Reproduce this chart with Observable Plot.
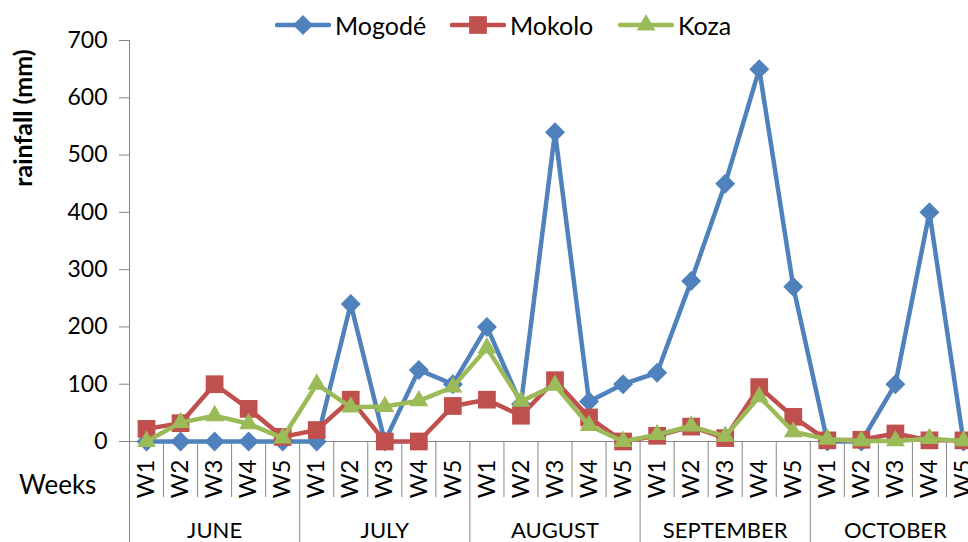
<!DOCTYPE html>
<html><head><meta charset="utf-8">
<script src="https://cdn.jsdelivr.net/npm/d3@7"></script>
<script src="https://cdn.jsdelivr.net/npm/@observablehq/plot@0.6"></script>
<style>
html,body{margin:0;padding:0;overflow:hidden;background:#fff;width:968px;height:542px}
#wrap{position:relative;width:968px;height:542px;font-family:Lato,"Open Sans",sans-serif;color:#000;overflow:hidden}
#chart{position:absolute;left:0;top:0;width:980px}
.leg{position:absolute;top:10px;height:30px;display:flex;align-items:center;font-size:25px;white-space:nowrap}
.leg span{margin-left:4px}
#ylab{position:absolute;left:22px;top:118px;transform:translate(-50%,-50%) rotate(-90deg);font-weight:bold;font-size:25px;white-space:nowrap}
#weeks{position:absolute;left:19px;top:484px;transform:translateY(-50%);font-size:26px}
</style></head>
<body><div id="wrap"><div id="chart"></div><div id="ylab">rainfall (mm)</div><div id="weeks">Weeks</div></div>
<script>
const months = ["JUNE","JULY","AUGUST","SEPTEMBER","OCTOBER"];
const weeks = ["W1","W2","W3","W4","W5"];
const seriesNames = ["Mogodé","Mokolo","Koza"];
const mogode = [0,0,0,0,0, 0,240,0,125,100, 200,65,540,70,100, 120,280,450,650,270, 0,0,100,400,0];
const mokolo = [22,32,100,57,8, 20,73,0,0,62, 73,45,107,42,0, 10,26,6,95,43, 2,3,14,2,2];
const koza = [0,33,45,31,6, 100,60,61,71,95, 163,70,98,28,0, 12,27,9,78,17, 4,1,1,5,1];
const yTicks = [0,100,200,300,400,500,600,700];

const colors = ["#4F81BD","#C0504D","#9BBB59"];
const symbols = ["diamond2","square","triangle"];
const radii = [9,10,7];
const gray = "#868686";

const values = [mogode, mokolo, koza];
const n = months.length * weeks.length;
const idx = d3.range(n);
const weekBounds = d3.range(1, n).filter(i => i % weeks.length !== 0);
const monthBounds = d3.range(0, n + 1, weeks.length);
const centers = idx.map(i => i + 0.5);
const monthRows = months.map((m, k) => ({month: m, x: k * weeks.length + weeks.length / 2}));

const marks = [
  Plot.axisX(weekBounds, {tickSize: 56, tickFormat: () => "", stroke: gray, label: null}),
  Plot.axisX(monthBounds, {tickSize: 101, tickFormat: () => "", stroke: gray, label: null}),
  Plot.axisX(centers, {tickSize: 0, tickRotate: -90, tickPadding: 18, fontSize: 24,
    tickFormat: v => weeks[Math.floor(v) % weeks.length], label: null}),
  Plot.text(monthRows, {x: "x", text: "month", frameAnchor: "bottom", dy: 96, fontSize: 22}),
  Plot.axisY(yTicks, {tickSize: 10, tickPadding: 12, fontSize: 23, stroke: gray, label: null}),
  Plot.ruleX([0], {stroke: gray}),
  Plot.ruleY([0], {stroke: gray})
];
values.forEach((vals, s) => {
  const rows = vals.map((v, i) => ({x: i + 0.5, y: v}));
  marks.push(Plot.line(rows, {x: "x", y: "y", stroke: colors[s], strokeWidth: 4.5, strokeLinejoin: "round"}));
  marks.push(Plot.dot(rows, {x: "x", y: "y", symbol: () => symbols[s], fill: colors[s], stroke: "none", r: radii[s]}));
});

const chart = Plot.plot({
  width: 980, height: 542,
  marginLeft: 129, marginRight: 0, marginTop: 40, marginBottom: 101,
  style: {fontFamily: "Lato, 'Open Sans', sans-serif", color: "#000", background: "#fff", overflow: "visible", maxWidth: "none"},
  x: {type: "linear", domain: [0, n], label: null},
  y: {domain: [0, 700], label: null},
  symbol: {type: "identity"},
  marks
});
chart.style.maxWidth = "none";
chart.setAttribute("width", 980);
chart.setAttribute("height", 542);
chart.style.width = "980px";
chart.style.height = "542px";
document.getElementById("chart").appendChild(chart);

// legend
const legLeft = [275, 450, 618];
seriesNames.forEach((name, s) => {
  const div = document.createElement("div");
  div.className = "leg";
  div.style.left = legLeft[s] + "px";
  const sym = {diamond2: d3.symbolDiamond2, square: d3.symbolSquare, triangle: d3.symbolTriangle}[symbols[s]];
  const path = d3.symbol(sym, Math.PI * radii[s] * radii[s])();
  div.innerHTML = `<svg width="56" height="30"><line x1="2" x2="54" y1="15" y2="15" stroke="${colors[s]}" stroke-width="4.5" stroke-linecap="round"/><path transform="translate(28,15)" d="${path}" fill="${colors[s]}"/></svg><span>${name}</span>`;
  document.getElementById("wrap").appendChild(div);
});
</script></body></html>
